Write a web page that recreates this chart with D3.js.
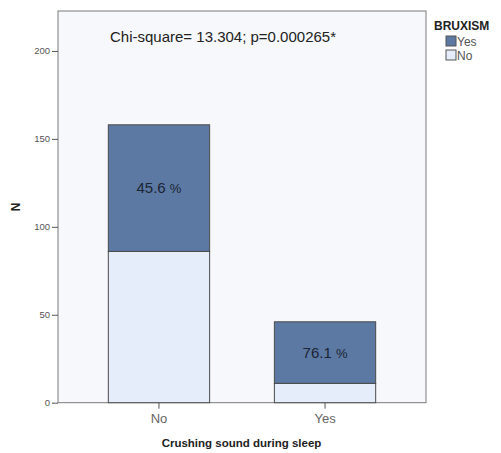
<!DOCTYPE html>
<html>
<head>
<meta charset="utf-8">
<script src="https://cdn.jsdelivr.net/npm/d3@7"></script>
<style>
  body { margin: 0; background: #fff; }
  text { font-family: "Liberation Sans", Arial, sans-serif; }
</style>
</head>
<body>
<script>
// chart values
let categories = ["No", "Yes"];
let bruxismNo = [86, 11];
let bruxismYes = [72, 35];
let percentLabels = ["45.6", "76.1"];
let yTicks = [0, 50, 100, 150, 200];
let legendKeys = ["Yes", "No"];
let title = "Chi-square= 13.304; p=0.000265*";

function main(){
    let width = 501, height = 453;
    let left = 58, right = 426, top = 11, bottom = 402.7;

    let svg = d3.select("body").append("svg")
        .attr("width", width)
        .attr("height", height);

    let color = d3.scaleOrdinal()
        .domain(["No", "Yes"])
        .range(["#e4edf9", "#5b79a2"]);

    let x = d3.scaleBand()
        .domain(categories)
        .range([left, right])
        .paddingInner(0.39)
        .paddingOuter(0.303);

    let y = d3.scaleLinear()
        .domain([0, 222.7])
        .range([bottom, top]);

    // plot background + frame
    svg.append("rect")
        .attr("x", left).attr("y", top)
        .attr("width", right - left).attr("height", bottom - top)
        .attr("fill", "#f6f8fc")
        .attr("stroke", "#7a7a7a")
        .attr("stroke-width", 1);

    let rows = categories.map(function(c, i){
        return {cat: c, No: bruxismNo[i], Yes: bruxismYes[i], pct: percentLabels[i]};
    });

    let stack = d3.stack().keys(["No", "Yes"]);
    let series = stack(rows);

    svg.append("g").selectAll("g")
        .data(series)
        .enter()
        .append("g")
        .attr("fill", function(d){ return color(d.key); })
        .selectAll("rect")
        .data(function(d){ return d; })
        .enter()
        .append("rect")
        .attr("x", function(d){ return x(d.data.cat); })
        .attr("width", x.bandwidth())
        .attr("y", function(d){ return y(d[1]); })
        .attr("height", function(d){ return y(d[0]) - y(d[1]); })
        .attr("stroke", "#4a4a4a")
        .attr("stroke-width", 1);

    // percentage labels in the Yes segment
    let yesSeries = series[1];
    let pct = svg.append("g").selectAll("text")
        .data(yesSeries)
        .enter()
        .append("text")
        .attr("x", function(d){ return x(d.data.cat) + x.bandwidth()/2; })
        .attr("y", function(d){ return (y(d[0]) + y(d[1]))/2 + 5; })
        .attr("text-anchor", "middle")
        .attr("font-size", 15)
        .attr("fill", "#1c2433");
    pct.append("tspan").text(function(d){ return d.data.pct + " "; });
    pct.append("tspan").attr("font-size", 13).attr("font-weight", "300").text("%");

    // y axis
    let yAxis = svg.append("g")
        .attr("transform", "translate(" + left + ",0)")
        .call(d3.axisLeft(y).tickValues(yTicks).tickSize(6).tickSizeOuter(0).tickPadding(2));
    yAxis.select(".domain").remove();
    yAxis.selectAll("line").attr("stroke", "#555");
    yAxis.selectAll("text")
        .attr("font-size", 9.5)
        .attr("fill", "#555")
        .style("font-family", "Liberation Sans, Arial, sans-serif");

    // x axis
    let xAxis = svg.append("g")
        .attr("transform", "translate(0," + bottom + ")")
        .call(d3.axisBottom(x).tickSize(6).tickSizeOuter(0).tickPadding(5));
    xAxis.select(".domain").remove();
    xAxis.selectAll("line").attr("stroke", "#555");
    xAxis.selectAll("text")
        .attr("font-size", 13)
        .attr("fill", "#666")
        .style("font-family", "Liberation Sans, Arial, sans-serif");

    // axis titles
    svg.append("text")
        .attr("x", 241.5)
        .attr("y", 447)
        .attr("text-anchor", "middle")
        .attr("font-size", 11.5)
        .attr("font-weight", "bold")
        .attr("fill", "#222")
        .text("Crushing sound during sleep");

    svg.append("text")
        .attr("transform", "translate(20," + ((top + bottom)/2) + ") rotate(-90)")
        .attr("text-anchor", "middle")
        .attr("font-size", 12)
        .attr("font-weight", "bold")
        .attr("fill", "#222")
        .text("N");

    // chi-square annotation
    svg.append("text")
        .attr("x", 110)
        .attr("y", 42)
        .attr("font-size", 15)
        .attr("fill", "#222")
        .text(title);

    // legend
    let legend = svg.append("g");
    legend.append("text")
        .attr("x", 434)
        .attr("y", 30)
        .attr("font-size", 12)
        .attr("font-weight", "bold")
        .attr("fill", "#222")
        .text("BRUXISM");

    let items = legend.selectAll("g.item")
        .data(legendKeys)
        .enter()
        .append("g")
        .attr("class", "item")
        .attr("transform", function(d, i){ return "translate(446," + (36 + i*14) + ")"; });
    items.append("rect")
        .attr("width", 10).attr("height", 10)
        .attr("fill", function(d){ return color(d); })
        .attr("stroke", "#555");
    items.append("text")
        .attr("x", 11)
        .attr("y", 10)
        .attr("font-size", 12)
        .attr("fill", "#555")
        .text(function(d){ return d; });
}

main();
</script>
</body>
</html>
